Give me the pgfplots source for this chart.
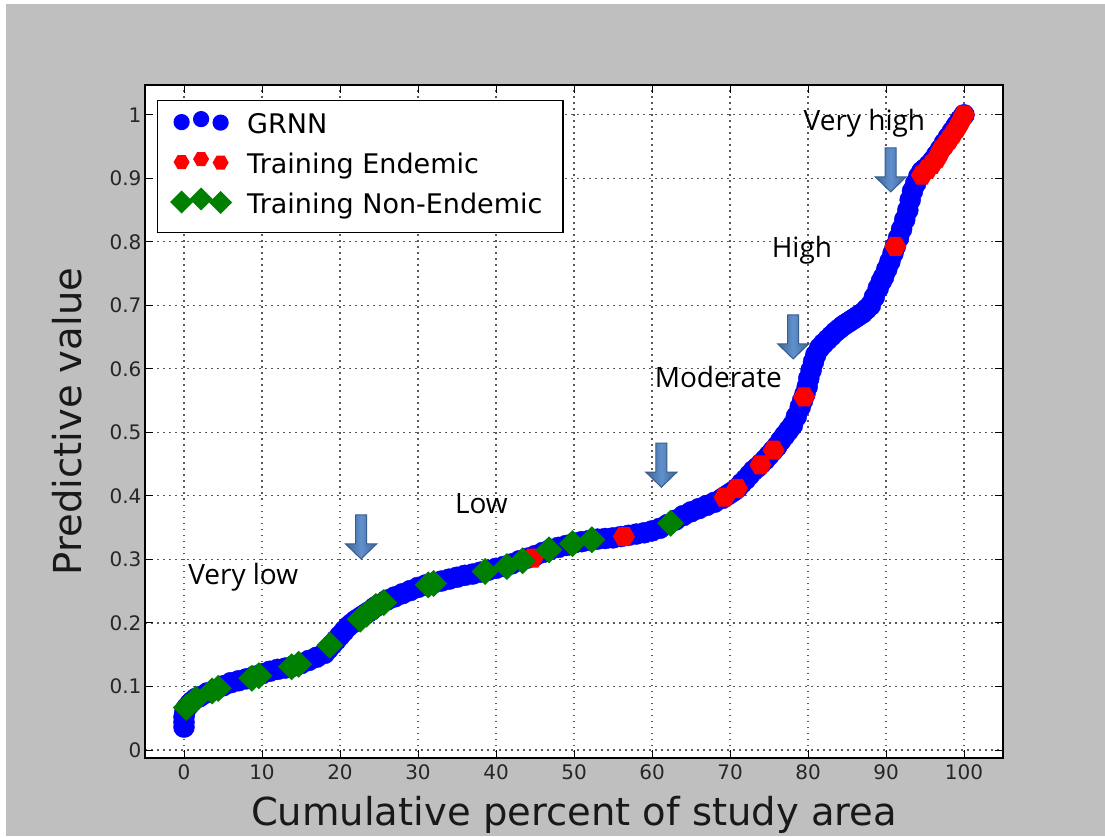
\documentclass[border=0pt]{standalone}
\usepackage{fontspec}
\setmainfont{DejaVu Sans}
\newfontfamily\annfont{Open Sans}
\usepackage{pgfplots}
\pgfplotsset{compat=1.18}
\definecolor{bgc}{RGB}{191,191,191}
\definecolor{arrdark}{RGB}{62,100,152}
\definecolor{arrlight}{RGB}{96,144,204}
\definecolor{arrdraw}{RGB}{56,93,138}
\definecolor{mgreen}{RGB}{0,128,0}

\pgfdeclareplotmark{hex*}{%
  \pgfpathmoveto{\pgfpointpolar{0}{\pgfplotmarksize}}%
  \pgfpathlineto{\pgfpointpolar{60}{\pgfplotmarksize}}%
  \pgfpathlineto{\pgfpointpolar{120}{\pgfplotmarksize}}%
  \pgfpathlineto{\pgfpointpolar{180}{\pgfplotmarksize}}%
  \pgfpathlineto{\pgfpointpolar{240}{\pgfplotmarksize}}%
  \pgfpathlineto{\pgfpointpolar{300}{\pgfplotmarksize}}%
  \pgfpathclose\pgfusepathqfill}
\pgfdeclareplotmark{dia*}{%
  \pgfpathmoveto{\pgfqpoint{0pt}{\pgfplotmarksize}}%
  \pgfpathlineto{\pgfqpoint{\pgfplotmarksize}{0pt}}%
  \pgfpathlineto{\pgfqpoint{0pt}{-\pgfplotmarksize}}%
  \pgfpathlineto{\pgfqpoint{-\pgfplotmarksize}{0pt}}%
  \pgfpathclose\pgfusepathqfill}

\pgfplotstableread{
x y
0 0.036
0 0.044
0 0.052
0.1 0.060
0.3 0.066
0.7 0.072
1 0.076
1.5 0.081
2 0.084
3 0.090
4 0.095
5 0.101
6 0.106
7 0.109
8 0.112
9 0.116
10 0.120
11 0.124
12 0.127
13 0.129
14 0.132
15 0.136
16 0.141
17 0.146
18 0.152
18.5 0.159
19 0.166
19.5 0.173
20 0.180
20.5 0.187
21 0.194
21.5 0.199
22 0.204
22.5 0.208
23 0.212
23.5 0.216
24 0.220
24.5 0.225
25 0.229
26 0.236
27 0.241
28 0.246
29 0.251
30 0.256
31 0.260
32 0.263
33 0.266
34 0.269
35 0.272
36 0.275
37 0.277
38 0.280
39 0.283
40 0.286
41 0.289
42 0.293
43 0.298
44 0.302
45 0.306
46 0.311
47 0.316
48 0.319
49 0.322
50 0.326
51 0.328
52 0.330
53 0.332
54 0.333
55 0.334
56 0.336
57 0.338
58 0.340
59 0.342
60 0.345
61 0.349
62 0.355
63 0.362
64 0.369
65 0.375
66 0.380
67 0.385
68 0.390
69 0.396
69.5 0.400
70 0.404
70.5 0.408
71 0.413
71.5 0.420
72 0.426
72.5 0.433
73 0.440
73.5 0.445
74 0.451
74.5 0.457
75 0.464
75.5 0.471
76 0.478
76.5 0.487
77 0.495
77.5 0.503
78 0.511
78.5 0.525
79 0.540
79.3 0.550
79.6 0.560
79.9 0.572
80.1 0.585
80.4 0.598
80.7 0.611
81 0.622
81.5 0.633
82 0.640
82.5 0.646
83 0.652
83.5 0.658
84 0.663
84.5 0.668
85 0.672
85.5 0.676
86 0.680
86.5 0.684
87 0.688
87.5 0.694
88 0.700
88.5 0.713
89 0.727
89.4 0.738
89.7 0.745
90.1 0.757
90.5 0.769
90.9 0.782
91.2 0.793
91.6 0.806
92 0.820
92.4 0.835
92.8 0.850
93.1 0.866
93.4 0.880
93.8 0.892
94.2 0.903
94.6 0.911
95 0.915
95.5 0.921
96 0.928
96.5 0.937
97 0.946
97.5 0.956
98 0.965
98.5 0.974
99 0.983
99.5 0.992
100 1.000
}\grnn

\pgfplotstableread{
x y
44.7 0.302
56.4 0.336
69.3 0.398
70.9 0.412
73.9 0.449
75.6 0.472
79.5 0.556
91.2 0.793
94.6 0.905
95.3 0.914
95.9 0.922
96.5 0.931
97.1 0.945
97.6 0.953
98.1 0.961
98.6 0.970
99.1 0.979
99.6 0.990
100 1.000
}\endemic

\pgfplotstableread{
x y
0.3 0.067
1.5 0.080
3.6 0.093
4.4 0.097
8.7 0.113
9.6 0.117
13.8 0.131
14.7 0.135
18.7 0.165
22.6 0.206
23.4 0.214
24.6 0.226
25.6 0.232
31.3 0.260
32.0 0.262
38.6 0.281
41.4 0.289
43.4 0.298
46.8 0.315
49.8 0.325
52.3 0.331
62.4 0.357
}\nonendemic

\begin{document}
\begin{tikzpicture}
\useasboundingbox (0,0) rectangle (1105pt,836pt);
\fill[white] (0,0) rectangle (1105pt,836pt);
\fill[bgc] (6pt,0) rectangle (1105pt,832pt);
\begin{axis}[
  at={(145pt,78pt)}, anchor=south west,
  scale only axis, width=858pt, height=673pt,
  xmin=-5, xmax=105, ymin=-0.0126, ymax=1.047,
  xtick={0,10,20,30,40,50,60,70,80,90,100},
  ytick={0,0.1,0.2,0.3,0.4,0.5,0.6,0.7,0.8,0.9,1},
  yticklabels={0,0.1,0.2,0.3,0.4,0.5,0.6,0.7,0.8,0.9,1},
  tick pos=both, tick align=inside, major tick length=8pt,
  every tick/.style={black, line width=1pt},
  axis line style={black, line width=1.6pt},
  axis background/.style={fill=white},
  grid=major,
  major grid style={black!65, line width=1.1pt, dash pattern=on 1.5pt off 4.5pt},
  tick label style={font=\fontsize{20}{24}\selectfont, text=black!85},
  /pgf/number format/assume math mode=true,
  xticklabel style={yshift=-3pt},
  xlabel={Cumulative percent of study area},
  ylabel={Predictive value},
  every axis x label/.style={at={(axis description cs:0.5,-0.0847)}, anchor=center,
    font=\fontsize{38.5}{44}\selectfont, text=black!90},
  every axis y label/.style={at={(axis description cs:-0.0903,0.5)}, anchor=center, rotate=90,
    font=\fontsize{38.5}{44}\selectfont, text=black!90},
  legend cell align=left,
  legend style={at={(axis description cs:0,1)}, anchor=north west,
    xshift=12pt, yshift=-15pt, draw=black, line width=1.2pt, fill=white,
    font=\fontsize{27}{32}\selectfont, inner xsep=12.5pt, inner ysep=6pt,
    row sep=0pt,
    nodes={text height=20pt, text depth=6pt, inner ysep=7pt, inner xsep=4pt}},
]
\addplot[only marks, mark=*, mark size=10.5pt, color=blue,
  legend image code/.code={\path (-7.5pt,0pt) (61pt,0pt);
    \draw[blue, fill=blue, only marks, mark=*, mark size=7.5pt] plot coordinates {(0pt,4.5pt)(19.5pt,7.5pt)(39pt,4pt)};}]
  table[x=x, y=y] {\grnn};
\addlegendentry{GRNN}
\addplot[only marks, mark=hex*, mark size=11pt, color=red,
  legend image code/.code={\path (-7.5pt,0pt) (61pt,0pt);
    \draw[red, fill=red, only marks, mark=hex*, mark size=8pt] plot coordinates {(0pt,4.5pt)(19.5pt,7.5pt)(39pt,4pt)};}]
  table[x=x, y=y] {\endemic};
\addlegendentry{Training Endemic}
\addplot[only marks, mark=dia*, mark size=13.5pt, color=mgreen,
  legend image code/.code={\path (-7.5pt,0pt) (61pt,0pt);
    \draw[mgreen, fill=mgreen, only marks, mark=dia*, mark size=11.5pt] plot coordinates {(0pt,4.5pt)(19.5pt,7.5pt)(39pt,4pt)};}]
  table[x=x, y=y] {\nonendemic};
\addlegendentry{Training Non-Endemic\hspace*{4pt}}

% region labels
\node[anchor=base west, font=\annfont\fontsize{28}{32}\selectfont] at (axis cs:0.1,0.26) {Very low};
\node[anchor=base west, font=\annfont\fontsize{28}{32}\selectfont] at (axis cs:34.3,0.372) {Low};
\node[anchor=base west, font=\annfont\fontsize{28}{32}\selectfont] at (axis cs:59.9,0.570) {Moderate};
\node[anchor=base west, font=\annfont\fontsize{28}{32}\selectfont] at (axis cs:74.9,0.776) {High};
\node[anchor=base west, font=\annfont\fontsize{28}{32}\selectfont] at (axis cs:79.0,0.976) {Very high};

% block arrows
\draw[draw=arrdraw, line width=1pt, left color=arrdark, right color=arrdark, middle color=arrlight]
  (axis cs:22.7,0.370) ++(-5.5pt,0pt) -- ++(11pt,0pt) -- ++(0pt,-29pt) -- ++(10pt,0pt) -- ++(-15.5pt,-15pt) -- ++(-15.5pt,15pt) -- ++(10pt,0pt) -- cycle;
\draw[draw=arrdraw, line width=1pt, left color=arrdark, right color=arrdark, middle color=arrlight]
  (axis cs:61.2,0.483) ++(-5.5pt,0pt) -- ++(11pt,0pt) -- ++(0pt,-29pt) -- ++(10pt,0pt) -- ++(-15.5pt,-15pt) -- ++(-15.5pt,15pt) -- ++(10pt,0pt) -- cycle;
\draw[draw=arrdraw, line width=1pt, left color=arrdark, right color=arrdark, middle color=arrlight]
  (axis cs:78.1,0.685) ++(-5.5pt,0pt) -- ++(11pt,0pt) -- ++(0pt,-29pt) -- ++(10pt,0pt) -- ++(-15.5pt,-15pt) -- ++(-15.5pt,15pt) -- ++(10pt,0pt) -- cycle;
\draw[draw=arrdraw, line width=1pt, left color=arrdark, right color=arrdark, middle color=arrlight]
  (axis cs:90.6,0.948) ++(-5.5pt,0pt) -- ++(11pt,0pt) -- ++(0pt,-29pt) -- ++(10pt,0pt) -- ++(-15.5pt,-15pt) -- ++(-15.5pt,15pt) -- ++(10pt,0pt) -- cycle;
\end{axis}
\end{tikzpicture}
\end{document}
